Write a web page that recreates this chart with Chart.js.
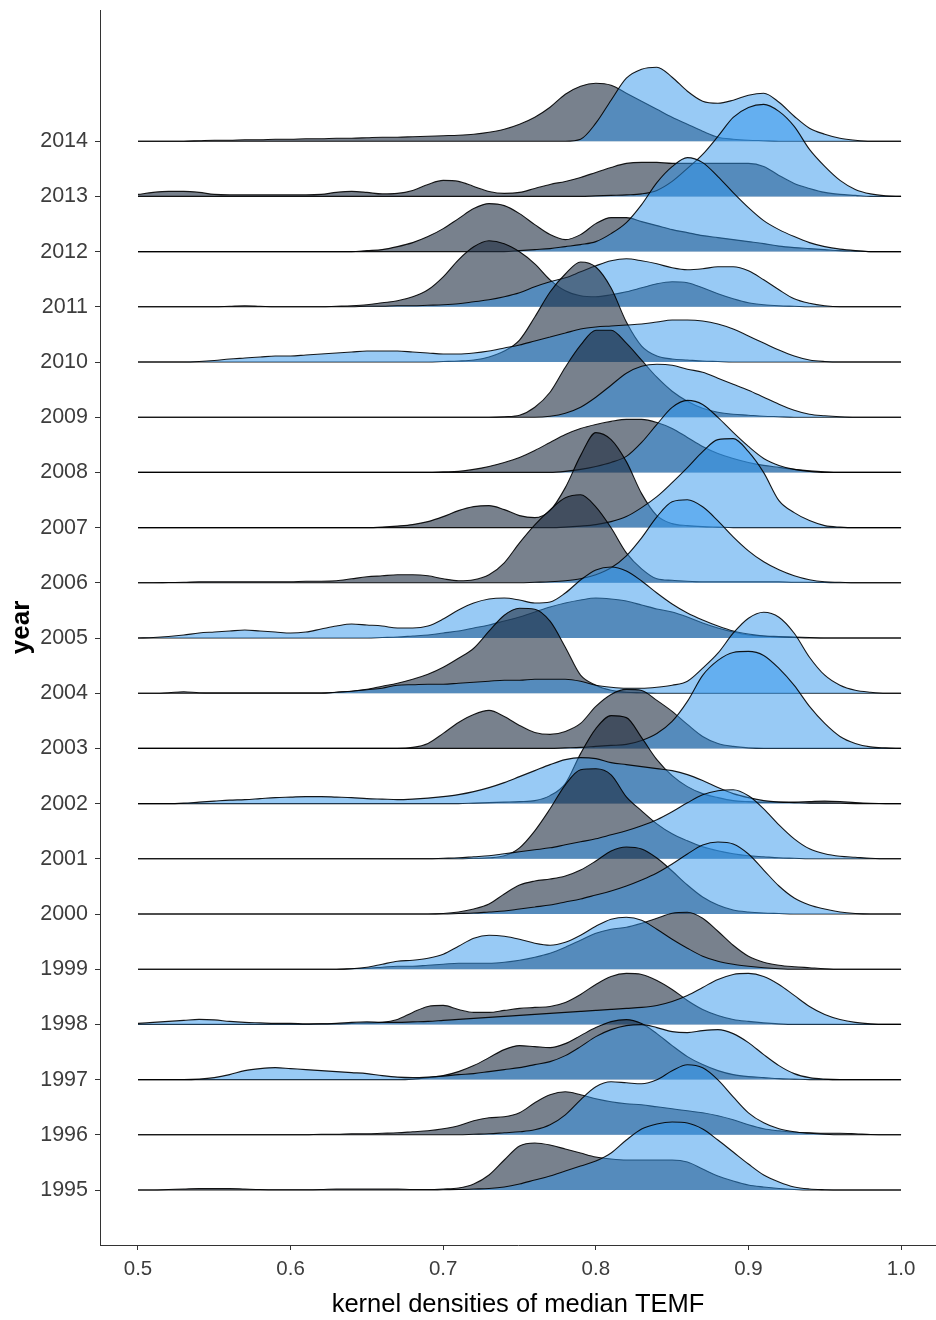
<!DOCTYPE html>
<html>
<head>
<meta charset="utf-8">
<script src="https://cdn.jsdelivr.net/npm/chart.js@4.4.1/dist/chart.umd.min.js"></script>
<style>
  html, body { margin: 0; padding: 0; background: #fff; }
  #ridges { display: block; }
</style>
</head>
<body>
<canvas id="ridges" width="936" height="1320"></canvas>
<script>
// years on the y axis, bottom to top
const years = [1995, 1996, 1997, 1998, 1999, 2000, 2001, 2002, 2003, 2004,
               2005, 2006, 2007, 2008, 2009, 2010, 2011, 2012, 2013, 2014];

// x positions where the densities were read (median TEMF)
const densityX = [0.50, 0.51, 0.52, 0.53, 0.54, 0.55, 0.56, 0.57, 0.58, 0.59,
                  0.60, 0.61, 0.62, 0.63, 0.64, 0.65, 0.66, 0.67, 0.68, 0.69,
                  0.70, 0.71, 0.72, 0.73, 0.74, 0.75, 0.76, 0.77, 0.78, 0.79,
                  0.80, 0.81, 0.82, 0.83, 0.84, 0.85, 0.86, 0.87, 0.88, 0.89,
                  0.90, 0.91, 0.92, 0.93, 0.94, 0.95, 0.96, 0.97, 0.98, 0.99,
                  1.00];

const xTicks = [0.5, 0.6, 0.7, 0.8, 0.9, 1.0];
const xTickLabels = ['0.5', '0.6', '0.7', '0.8', '0.9', '1.0'];

// ridge heights (relative density, 55.2 = one row of spacing)
const dark1995 = [0,0,0.5,1,1.5,1.5,1.5,1,0.5,0.3, 0.3,0.3,0.5,1,1,1,1,1,0.5,0.5, 1,2,6,15,30,44,47,45,41,37, 33,31,30,30,30,30,28,21,14,9, 5,3,1.5,0.5,0,0,0,0,0,0, 0];
const blue1995 = [0,0,0,0,0,0,0,0,0,0, 0,0,0,0,0,0,0,0,0,0, 0.3,0.5,1,1.5,3,6,10,14,19,24, 29,37,50,61,66,68,67,61,50,38, 26,15,8,3,1,0.3,0,0,0,0, 0];
const dark1996 = [0,0,0,0,0,0,0,0,0,0, 0,0,0.5,0.5,1,1,1.5,2,3,4, 6,9,14,17,18,22,32,40,43,40, 36,33,31,30,28,26,24,22,19,15, 10,6,4,2.5,2,1.5,1.5,1,0.3,0, 0];
const blue1996 = [0,0,0,0,0,0,0,0,0,0, 0,0,0,0,0,0,0,0,0,0, 0,0,0.5,1,2,3,5,10,20,35, 48,53,52,51,55,64,70,67,55,38, 22,12,6,3,1.5,0.5,0,0,0,0, 0];
const dark1997 = [0,0,0,0,0,0,0,0,0,0, 0,0,0,0,0,0,0,0,0.5,2, 4,8,14,22,30,34,33,32,36,44, 52,58,60,56,46,34,23,15,9,5, 3,2,1,0.5,0,0,0,0,0,0, 0];
const blue1997 = [0,0,0,0,0.5,2,5,9,11,12, 11,10,9,8,7,6,4,2.5,2,2.5, 3.5,5,6,8,10,12,15,18,24,33, 43,50,54,55,52,48,47,49,50,46, 37,25,14,6,2,0.5,0,0,0,0, 0];
const dark1998 = [0,0,0,0,0,0,0,0,0,0, 0,0,0.5,0.5,1,1.5,2,5,12,18, 19,15,12,12,14,16,17,18,22,30, 40,48,51,50,44,35,24,15,9,5, 3,1.5,0.5,0,0,0,0,0,0,0, 0];
const blue1998 = [1,2,3,4,5,4.5,3,2,1.5,1, 1,0.5,0.5,1,2,2.5,2,2,2.5,3, 4,5,6,7,8,9,10,11,12,13, 14,15,16,17,19,23,29,37,45,50, 51,48,40,29,18,10,5,2,0.5,0, 0];
const dark1999 = [0,0,0,0,0,0,0,0,0,0, 0,0,0,0,0.5,1,2,3,3,4, 5,6,6,6,7,9,12,16,22,29, 36,40,42,46,51,56,57,51,38,24, 13,7,4,2.5,1.5,0.5,0,0,0,0, 0];
const blue1999 = [0,0,0,0,0,0,0,0,0,0, 0,0,0,0,0.5,2,5,8,9,11, 15,23,31,34,33,30,26,24,27,34, 43,50,52,49,40,30,21,13,8,5, 3,1.5,0.5,0,0,0,0,0,0,0, 0];
const dark2000 = [0,0,0,0,0,0,0,0,0,0, 0,0,0,0,0,0,0,0,0,0, 0.5,2,5,10,20,29,33,35,38,44, 53,63,67,65,56,43,29,17,9,4, 2,1,0.5,0,0,0,0,0,0,0, 0];
const blue2000 = [0,0,0,0,0,0,0,0,0,0, 0,0,0,0,0,0,0,0,0,0, 0,0.5,1,2,3,5,7,9,12,15, 19,23,28,34,41,50,60,69,72,70, 60,44,28,16,9,5,2,0.5,0,0, 0];
const dark2001 = [0,0,0,0,0,0,0,0,0,0, 0,0,0,0,0,0,0,0,0,0, 0,0,0.5,1,3,11,28,50,74,89, 90,84,62,48,35,25,18,12,8,5, 3,2,1,0.5,0,0,0,0,0,0, 0];
const blue2001 = [0,0,0,0,0,0,0,0,0,0, 0,0,0,0,0,0,0,0,0,0, 0.5,1,2,3,5,7,9,11,14,17, 20,24,28,33,39,47,56,64,68,69, 63,50,34,20,10,5,2.5,1.5,0.5,0, 0];
const dark2002 = [0,0,0,0,0,0,0,0,0,0, 0,0,0,0,0,0,0,0,0,0, 0,0,0.5,1,1.5,2,3,8,20,50, 75,88,86,66,44,28,17,10,6,3, 2,1.5,1.5,1.5,2,2.5,2,1,0.3,0, 0];
const blue2002 = [0,0,0,0.5,1.5,2.5,3.5,4,5,6, 6.5,7,7,6.5,6,5,4.5,4,4.5,5.5, 7,9,12,16,21,27,33,39,44,46, 45,41,39,37,35,33,29,23,16,10, 6,3,1.5,1,0.5,0.5,0.3,0,0,0, 0];
const dark2003 = [0,0,0,0,0,0,0,0,0,0, 0,0,0,0,0,0,0,0,1,5, 15,26,34,38,32,23,16,14,17,25, 42,54,59,58,48,37,24,12,5,2, 0.5,0,0,0,0,0,0,0,0,0, 0];
const blue2003 = [0,0,0,0,0,0,0,0,0,0, 0,0,0,0,0,0,0,0,0,0, 0,0,0,0,0,0,0,0,0.5,1, 2,3,4,8,15,27,47,73,88,96, 97,93,80,63,42,25,12,5,1.5,0.5, 0];
const dark2004 = [0,0,0.5,1.5,0.5,0.3,0.3,0.3,0.3,0.3, 0.3,0.3,0.3,1,2,4,7,10,14,19, 26,35,45,62,78,85,84,72,46,18, 8,3,1,0.5,0,0,0,0,0,0, 0,0,0,0,0,0,0,0,0,0, 0];
const blue2004 = [0,0,0,0,0,0,0,0,0,0, 0,0,0,1,2,3.5,5,8,8.5,9, 9,10,11,12,13,13,14,14,14,12, 8,6,5,5,6,8,12,25,40,60, 75,81,76,60,36,18,8,3,1,0, 0];
const dark2005 = [0,0,0,0,0,0,0,0,0,0, 0,0,0,0,0,0,0.5,1,2,3, 5,7,10,13,17,21,26,31,35,38, 40,39,37,33,29,26,21,15,10,6, 3,2,1.5,1,0.5,0,0,0,0,0, 0];
const blue2005 = [0,0.5,1.5,3,5,6,7,8,7,6, 5,6,9,12,14,13,12,10,10,12, 19,28,35,39,40,38,35,36,45,58, 68,71,67,57,45,34,25,18,12,7, 4,2,1,0.5,0,0,0,0,0,0, 0];
const dark2006 = [0,0,0.3,0.5,1,1,1,1,1,1, 1,1.5,1.5,2,4,6,7,8,8,7, 4,2,3,8,20,40,58,73,85,88, 76,55,30,14,4,2.5,1.5,1,1,1, 1,1,1,0.5,0.5,0.3,0,0,0,0, 0];
const blue2006 = [0,0,0,0,0,0,0,0,0,0, 0,0,0,0,0,0,0,0,0,0, 0,0,0,0,0,0,0.5,1,2,4, 8,15,27,45,66,81,83,76,62,46, 32,21,13,7,3,1,0.5,0,0,0, 0];
const dark2007 = [0,0,0,0,0,0,0,0,0,0, 0,0,0,0,0,0,0.5,1.5,3,6, 11,17,21,22,18,12,10,17,40,72, 95,88,66,34,12,4,2,1,0.5,0, 0,0,0,0,0,0,0,0,0,0, 0];
const blue2007 = [0,0,0,0,0,0,0,0,0,0, 0,0,0,0,0,0,0,0,0,0, 0,0,0,0,0,0,0,0,0.5,1.5, 3,6,11,20,31,45,60,76,88,89, 76,55,27,15,7,2,0.5,0,0,0, 0];
const dark2008 = [0,0,0,0,0,0,0,0,0,0, 0,0,0,0,0,0,0,0,0,0, 0.5,1,3,6,10,15,22,30,38,44, 48,51,53,53,50,44,35,26,19,14, 10,7,5,3,1.5,0.5,0,0,0,0, 0];
const blue2008 = [0,0,0,0,0,0,0,0,0,0, 0,0,0,0,0,0,0,0,0,0, 0,0,0,0,0,0,0,0,1,3, 6,10,16,30,48,65,72,68,55,40, 26,14,7,3,1,0,0,0,0,0, 0];
const dark2009 = [0,0,0,0,0,0,0,0,0,0, 0,0,0,0,0,0,0,0,0,0, 0,0,0,0,0.5,2,10,25,50,72, 87,87,74,57,40,26,16,9,5,3, 2,1,0.5,0,0,0,0,0,0,0, 0];
const blue2009 = [0,0,0,0,0,0,0,0,0,0, 0,0,0,0,0,0,0,0,0,0, 0,0,0,0,0,0,0,1,4,10, 20,32,44,51,53,52,48,45,39,33, 27,20,13,7,3,1.5,0.5,0,0,0, 0];
const dark2010 = [0,0,0,0,0,0,0,0,0,0, 0,0,0,0,0,0,0,0,0,0, 0.5,1,2,5,11,22,45,70,88,100, 95,74,40,16,6,3,2,1,0.5,0, 0,0,0,0,0,0,0,0,0,0, 0];
const blue2010 = [0,0,0,0,0.5,1.5,3,4,5,6, 6,7,8,9,10,11,11,11,10,9, 8,8,9,11,14,17,21,25,29,33, 35,36,37,38,40,42,42,41,38,33, 26,19,12,6,2,0.5,0,0,0,0, 0];
const dark2011 = [0,0,0,0,0,0,0.5,1,0.5,0, 0,0,0,0.5,1,2,4,6,10,17, 30,47,60,66,63,55,43,27,16,11, 10,12,15,19,23,25,24,19,13,8, 4,2,1,0.5,0,0,0,0,0,0, 0];
const blue2011 = [0,0,0,0,0,0,0,0,0,0, 0,0,0,0,0,0.5,0.5,1,1,1.5, 2,3,5,7,10,14,20,25,29,35, 41,46,48,46,43,39,37,38,40,40, 36,27,17,8,3.5,1,0,0,0,0, 0];
const dark2012 = [0,0,0,0,0,0,0,0,0,0, 0,0,0,0,0,1,2,5,9,15, 23,33,43,48,46,38,27,17,12,17, 28,34,34,30,26,22,19,16,14,12, 10,8,5.5,4,3,2,1,0.5,0,0, 0];
const blue2012 = [0,0,0,0,0,0,0,0,0,0, 0,0,0,0,0,0,0,0,0,0, 0,0,0,0,0,1,2,3,5,7, 10,18,29,47,69,85,94,89,75,59, 44,31,22,15,9,5,2.5,1,0,0, 0];
const dark2013 = [2,4,5,5,4,2,1.5,1.5,1.5,1.5, 1.5,1.5,2,4,5,4,2.5,3,6,12, 16,15,10,5,3,4,8,12,15,19, 24,29,33,34,34,33,33,33,33,33, 33,30,21,13,8,4,2,1,0,0, 0];
const blue2013 = [0,0,0,0,0,0,0,0,0,0, 0,0,0,0,0,0,0,0,0,0, 0,0,0,0,0,0,0,0,0,0, 0.5,1,1.5,2.5,6,15,28,42,60,79, 89,92,85,70,47,30,16,7,2.5,0.5, 0];
const dark2014 = [0,0,0,0,0.5,1,1,1.5,1.5,2, 2,2.5,2.5,3,3,3.5,4,4,4.5,5, 5.5,6,7,9,12,17,24,34,47,55, 58,56,48,40,32,24,17,10,4,2, 1,0.5,0,0,0,0,0,0,0,0, 0];
const blue2014 = [0,0,0,0,0,0,0,0,0,0, 0,0,0,0,0,0,0,0,0,0, 0,0,0,0,0,0,0,0,0,2, 18,41,63,72,74,64,50,40,38,41, 46,48,39,25,13,7,3,1,0,0, 0];

const darkRows = [dark1995, dark1996, dark1997, dark1998, dark1999, dark2000, dark2001,
                  dark2002, dark2003, dark2004, dark2005, dark2006, dark2007, dark2008,
                  dark2009, dark2010, dark2011, dark2012, dark2013, dark2014];
const blueRows = [blue1995, blue1996, blue1997, blue1998, blue1999, blue2000, blue2001,
                  blue2002, blue2003, blue2004, blue2005, blue2006, blue2007, blue2008,
                  blue2009, blue2010, blue2011, blue2012, blue2013, blue2014];

const ROW = 55.2; // height units per row of spacing
const FONT = "'Liberation Sans', Arial, Helvetica, sans-serif";
const darkFill = 'rgba(30, 45, 65, 0.6)';
const blueFill = 'rgba(50, 150, 235, 0.5)';

function ridge(heights, row, fillColor) {
    return {
        data: densityX.map((x, k) => ({ x: x, y: row + heights[k] / ROW })),
        borderColor: 'rgba(0,0,0,0.9)',
        borderWidth: 1.1,
        backgroundColor: fillColor,
        fill: { value: row },
        pointRadius: 0,
        cubicInterpolationMode: 'monotone'
    };
}

// dataset 0 is painted last, so lower years sit on top of higher ones
const datasets = [];
years.forEach((yr, i) => {
    datasets.push(ridge(blueRows[i], i, blueFill));
    datasets.push(ridge(darkRows[i], i, darkFill));
});

const ctx = document.getElementById('ridges').getContext('2d');
new Chart(ctx, {
    type: 'line',
    data: { datasets: datasets },
    options: {
        responsive: false,
        animation: false,
        devicePixelRatio: 1,
        layout: { padding: { top: 10, right: 0, left: 0, bottom: 0 } },
        plugins: { legend: { display: false }, tooltip: { enabled: false } },
        scales: {
            x: {
                type: 'linear',
                min: 0.4751,
                max: 1.0229,
                afterBuildTicks: s => { s.ticks = xTicks.map(v => ({ value: v })); },
                afterFit: s => { s.height = 75; s.paddingLeft = 0; s.paddingRight = 0; },
                ticks: {
                    callback: (v, i) => xTickLabels[i],
                    color: '#3d3d3d',
                    font: { family: FONT, size: 20.5 },
                    padding: 7,
                    maxRotation: 0,
                    autoSkip: false
                },
                grid: { drawOnChartArea: false, drawTicks: true, tickLength: 5, color: '#333', lineWidth: 1 },
                border: { display: true, color: '#333', width: 1 },
                title: {
                    display: true,
                    text: 'kernel densities of median TEMF',
                    color: '#000',
                    font: { family: FONT, size: 25.5 },
                    padding: { top: 0, bottom: 0 }
                }
            },
            y: {
                type: 'linear',
                min: -0.996,
                max: 21.377,
                afterBuildTicks: s => { s.ticks = years.map((yr, i) => ({ value: i })); },
                afterFit: s => { s.width = 100; s.paddingTop = 0; s.paddingBottom = 0; },
                ticks: {
                    callback: v => String(years[v]),
                    color: '#3d3d3d',
                    font: { family: FONT, size: 21.5 },
                    padding: 7,
                    autoSkip: false
                },
                grid: { drawOnChartArea: false, drawTicks: true, tickLength: 5, color: '#333', lineWidth: 1 },
                border: { display: true, color: '#333', width: 1 },
                title: {
                    display: true,
                    text: 'year',
                    color: '#000',
                    font: { family: FONT, size: 26, weight: 'bold' },
                    padding: { top: 6, bottom: 0 }
                }
            }
        }
    }
});
</script>
</body>
</html>
